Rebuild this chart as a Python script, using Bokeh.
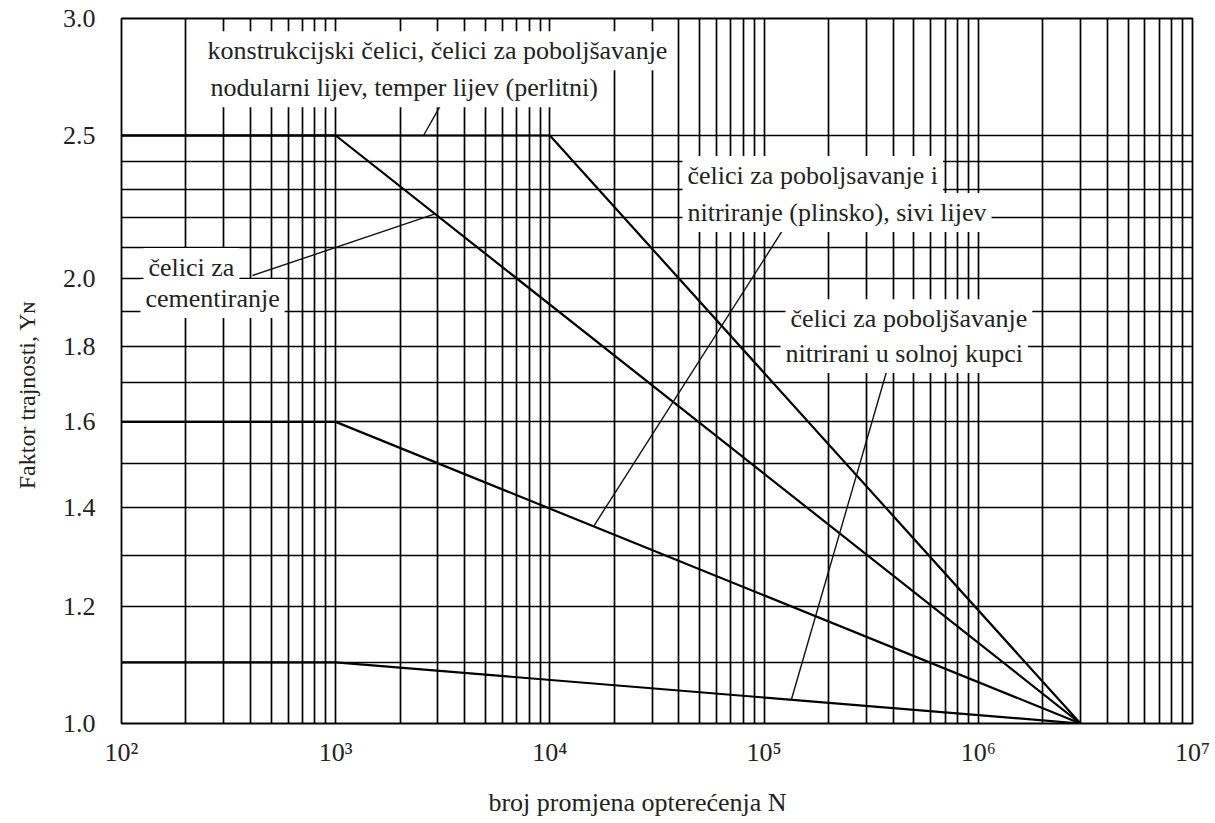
import math
from bokeh.plotting import figure
from bokeh.models import (Range1d, FixedTicker, CustomJSTickFormatter, PrintfTickFormatter, Label)
from bokeh.embed import file_html
from bokeh.resources import INLINE

# ---------------- data ----------------
# Faktor trajnosti Y_N vs broj promjena opterećenja N (log-log)
s1_N = [1e2, 1e4, 3e6]   # konstrukcijski čelici, čelici za poboljšavanje, nodularni lijev, temper lijev
s1_Y = [2.5, 2.5, 1.0]
s2_N = [1e2, 1e3, 3e6]   # čelici za cementiranje
s2_Y = [2.5, 2.5, 1.0]
s3_N = [1e2, 1e3, 3e6]   # čelici za poboljšavanje i nitriranje (plinsko), sivi lijev
s3_Y = [1.6, 1.6, 1.0]
s4_N = [1e2, 1e3, 3e6]   # čelici za poboljšavanje nitrirani u solnoj kupci
s4_Y = [1.1, 1.1, 1.0]

x_ticks = [1e2, 1e3, 1e4, 1e5, 1e6, 1e7]
y_ticks = [1.0, 1.2, 1.4, 1.6, 1.8, 2.0, 2.5, 3.0]
x_grid = [m * 10 ** k for k in range(2, 7) for m in range(1, 10)] + [1e7]
y_grid = [1.1, 1.2, 1.3, 1.4, 1.5, 1.6, 1.7, 1.8, 1.9, 2.0, 2.1, 2.2, 2.3, 2.4, 2.5]

FONT = "Liberation Serif"
TXT = "#222222"
NB = "\u00a0"

p = figure(width=1213, height=820, x_axis_type="log", y_axis_type="log",
           x_range=Range1d(1e2, 1e7), y_range=Range1d(1.0, 3.0),
           output_backend="svg", toolbar_location=None,
           min_border_left=121, min_border_top=18, min_border_right=21, min_border_bottom=97)
p.background_fill_color = "white"
p.border_fill_color = "white"
p.outline_line_color = "black"
p.outline_line_width = 1.8

# grid
p.xgrid.ticker = FixedTicker(ticks=x_grid)
p.ygrid.ticker = FixedTicker(ticks=y_grid)
for g in (p.xgrid, p.ygrid):
    g.grid_line_color = "black"
    g.grid_line_width = 1.7
    g.grid_line_alpha = 1.0

# axes
p.xaxis.ticker = FixedTicker(ticks=x_ticks)
p.yaxis.ticker = FixedTicker(ticks=y_ticks)
p.xaxis.formatter = CustomJSTickFormatter(code="""
const sup = {'2':'\u00b2','3':'\u00b3','4':'\u2074','5':'\u2075','6':'\u2076','7':'\u2077'};
const e = Math.round(Math.log10(tick)).toString();
return '10' + (sup[e] || e);
""")
p.yaxis.formatter = PrintfTickFormatter(format="%.1f")
for ax in (p.xaxis, p.yaxis):
    ax.axis_line_color = None
    ax.major_tick_line_color = None
    ax.minor_tick_line_color = None
    ax.major_tick_out = 0
    ax.major_tick_in = 0
    ax.minor_tick_out = 0
    ax.major_label_text_font = FONT
    ax.major_label_text_font_size = "26px"
    ax.major_label_text_color = TXT
    ax.axis_label_text_font = FONT
    ax.axis_label_text_font_style = "normal"
    ax.axis_label_text_color = TXT
p.yaxis.major_label_standoff = 26
p.xaxis.major_label_standoff = 14
p.yaxis.axis_label = "Faktor trajnosti, Y\u0274" + NB * 8
p.yaxis.axis_label_text_font_size = "24px"
p.yaxis.axis_label_standoff = 20
p.xaxis.axis_label = "broj promjena opterećenja N" + NB * 6
p.xaxis.axis_label_text_font_size = "26px"
p.xaxis.axis_label_standoff = 18

# curves
for N, Y in ((s1_N, s1_Y), (s2_N, s2_Y), (s3_N, s3_Y), (s4_N, s4_Y)):
    p.line(N, Y, line_color="black", line_width=2.2)


def on_curve(N, Y, n):
    """log-log interpolation on a series"""
    ln = math.log10(n)
    for i in range(len(N) - 1):
        a, b = math.log10(N[i]), math.log10(N[i + 1])
        if a <= ln <= b:
            t = (ln - a) / (b - a)
            return 10 ** (math.log10(Y[i]) + t * (math.log10(Y[i + 1]) - math.log10(Y[i])))
    return Y[-1]


# leader lines: (label anchor) -> point on curve
leaders = [
    ((3083, 2.619), (s1_N, s1_Y, 2570)),
    ((409, 2.010), (s2_N, s2_Y, 2910)),
    ((121900, 2.156), (s3_N, s3_Y, 16000)),
    ((376700, 1.739), (s4_N, s4_Y, 134000)),
]
x0s, y0s, x1s, y1s = [], [], [], []
for (xa, ya), (N, Y, n) in leaders:
    x0s.append(xa); y0s.append(ya)
    x1s.append(n); y1s.append(on_curve(N, Y, n))
p.segment(x0=x0s, y0=y0s, x1=x1s, y1=y1s, line_color="#111111", line_width=1.4)

# labels (one per text line, white background hides the grid)
label_lines = [
    ("konstrukcijski čelici, čelici za poboljšavanje", 238.9, 2.853),
    ("nodularni lijev, temper lijev (perlitni)", 246.7, 2.693),
    ("čelici za", 126.7, 2.035),
    ("cementiranje", 122.6, 1.939),
    ("čelici za poboljsavanje i", 41600, 2.349),
    ("nitriranje (plinsko), sivi lijev", 41600, 2.217),
    ("čelici za poboljšavanje", 125900, 1.879),
    ("nitrirani u solnoj kupci", 119300, 1.780),
]
for t, x, y in label_lines:
    p.add_layout(Label(x=x, y=y, text=t, text_font=FONT, text_font_size="26px",
                       text_color=TXT, text_align="left", text_baseline="middle",
                       background_fill_color="white", background_fill_alpha=1.0,
                       padding=5))

open("out.html", "w").write(file_html(p, INLINE))
